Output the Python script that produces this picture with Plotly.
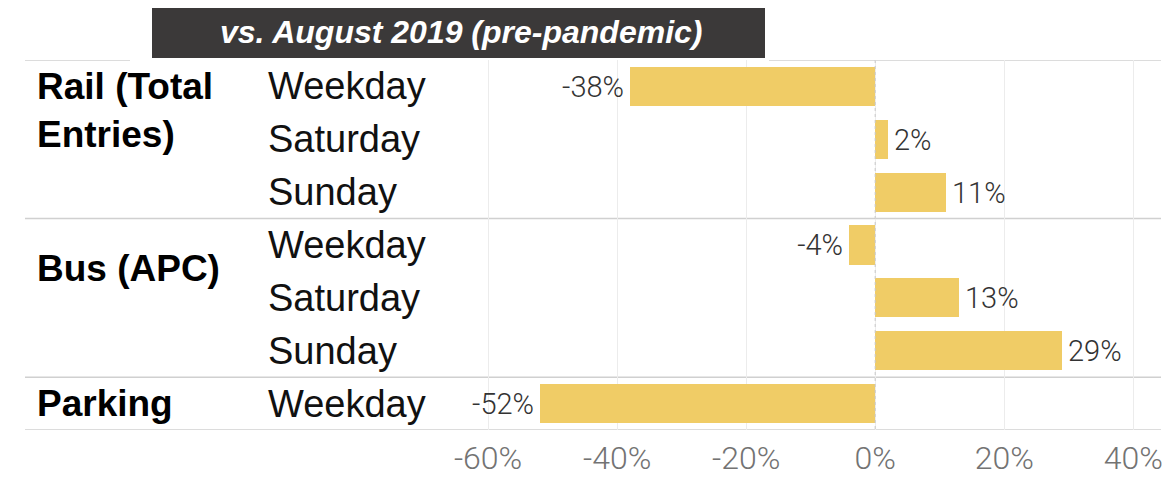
import plotly.graph_objects as go

# Data
groups = ["Rail (Total<br>Entries)", "Bus (APC)", "Parking"]
group_sizes = [3, 3, 1]
day_types = ["Weekday", "Saturday", "Sunday", "Weekday", "Saturday", "Sunday", "Weekday"]
pct_change = [-38, 2, 11, -4, 13, 29, -52]
tick_vals = [-60, -40, -20, 0, 20, 40]
tick_text = ["-60%", "-40%", "-20%", "0%", "20%", "40%"]
banner = "vs. August 2019 (pre-pandemic)"

rows = list(range(len(day_types)))
bar_color = "#F0CC66"
label_font = "Liberation Sans, Arial, sans-serif"
num_font = "Roboto, Lato, sans-serif"

# the page body has an 8px margin, so the figure sits 8px right/down
OFF = 8
W, H = 1173 - OFF, 479 - OFF
L, T = 430 - OFF, 60 - OFF
R = W + OFF - 1161
B = H + OFF - 430
pw = W - L - R
ph = H - T - B


def px_x(px):
    # reference pixel -> paper x
    return (px - OFF - L) / pw


def px_y(py):
    # reference pixel -> paper y
    return (H - B - (py - OFF)) / ph


fig = go.Figure(
    go.Bar(
        x=pct_change,
        y=rows,
        orientation="h",
        width=0.74,
        marker=dict(color=bar_color, line=dict(width=0)),
        text=[f"\u200a{v}%\u200a" for v in pct_change],
        textposition="outside",
        textfont=dict(family=num_font, size=29, color="#333333", weight=300),
        cliponaxis=False,
        hoverinfo="skip",
    )
)

shapes = []
annotations = []

# row separators
start = 0
seps = [-0.5]
for size in group_sizes:
    start += size
    seps.append(start - 0.5)
for s in seps[1:]:
    shapes.append(dict(type="line", xref="paper", yref="y", x0=px_x(25), x1=1,
                       y0=s, y1=s, line=dict(color="#d0d0d0", width=1.5), layer="below"))
# top separator (broken by the banner)
for a, b in [(25, 130), (769, 1161)]:
    shapes.append(dict(type="line", xref="paper", yref="y", x0=px_x(a), x1=px_x(b),
                       y0=-0.5, y1=-0.5, line=dict(color="#d0d0d0", width=1.5), layer="below"))

# dotted zero line
shapes.append(dict(type="line", xref="x", yref="y", x0=0, x1=0, y0=-0.5, y1=6.5,
                   line=dict(color="#c8c8c8", width=1, dash="dot"), layer="above"))

# banner
shapes.append(dict(type="rect", xref="paper", yref="paper",
                   x0=px_x(152), x1=px_x(765), y0=px_y(58), y1=px_y(5),
                   fillcolor="#3b3939", line=dict(width=0)))
annotations.append(dict(xref="paper", yref="paper", x=px_x(461), y=px_y(32),
                        text=f"<b><i>{banner}</i></b>", showarrow=False,
                        font=dict(family=label_font, size=32, color="white"),
                        xanchor="center", yanchor="middle"))

# group labels
start = 0
for g, size in zip(groups, group_sizes):
    ypos = start + 0.45 if size > 1 else start
    annotations.append(dict(xref="paper", yref="y", x=px_x(35), y=ypos,
                            text=f"<b>{g}</b>", showarrow=False, align="left",
                            xanchor="left", yanchor="middle",
                            font=dict(family=label_font, size=37, color="#000000")))
    start += size

# day-type labels
for r, d in zip(rows, day_types):
    annotations.append(dict(xref="paper", yref="y", x=px_x(266), y=r,
                            text=d, showarrow=False, xanchor="left", yanchor="middle",
                            font=dict(family=label_font, size=38, color="#111111")))

fig.update_layout(
    width=W, height=H,
    margin=dict(l=L, r=R, t=T, b=B, pad=0, autoexpand=False),
    paper_bgcolor="white", plot_bgcolor="white",
    showlegend=False,
    bargap=0,
    shapes=shapes,
    annotations=annotations,
    xaxis=dict(range=[-69, 44.3], tickvals=tick_vals, ticktext=tick_text,
               showgrid=True, gridcolor="#ececec", gridwidth=1, zeroline=False,
               showline=False, ticks="", ticklabelstandoff=6, automargin=False,
               ticklabeloverflow="allow",
               tickfont=dict(family=num_font, size=32, color="#737373", weight=300),
               fixedrange=True),
    yaxis=dict(range=[6.5, -0.5], showticklabels=False, showgrid=False, automargin=False,
               zeroline=False, showline=False, fixedrange=True),
)

fig.write_html("out.html")
